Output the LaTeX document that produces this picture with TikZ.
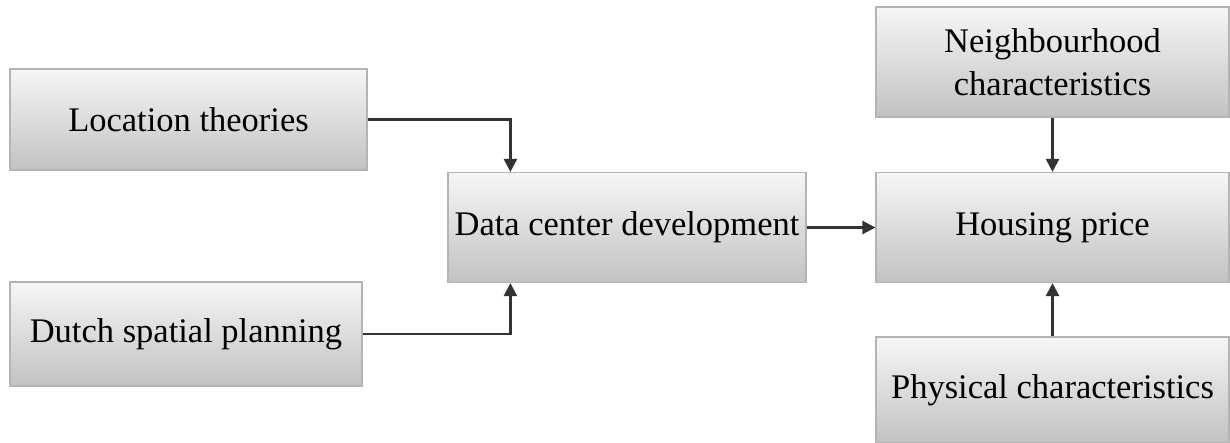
\documentclass[tikz,border=0pt]{standalone}
\usepackage{fontspec}
\setmainfont{Liberation Serif}
\usetikzlibrary{arrows.meta}
\definecolor{boxtop}{HTML}{F6F6F6}
\definecolor{boxbottom}{HTML}{C2C2C2}
\definecolor{boxline}{HTML}{B4B4B4}
\definecolor{arrowline}{HTML}{333333}
\begin{document}
\begin{tikzpicture}[x=1pt,y=-1pt,
  box/.style={rectangle, draw=boxline, line width=1.2pt,
    top color=boxtop, bottom color=boxbottom, inner sep=0pt,
    align=center, text=black, font=\fontsize{34.5}{43}\selectfont},
  arr/.style={draw=arrowline, line width=2.4pt,
    -{Triangle[length=13pt,width=13pt]}}]
\useasboundingbox (0,0) rectangle (1230,443);

% boxes
\node[box, minimum width=357pt, minimum height=101pt] (loc) at (188.5,119.5) {Location theories};
\node[box, minimum width=352pt, minimum height=104pt] (dutch) at (186,334) {Dutch spatial planning};
\node[box, minimum width=358pt, minimum height=110pt] (dc) at (627,227.5) {Data center development};
\node[box, minimum width=353pt, minimum height=110pt] (house) at (1052.5,227.5) {Housing price};
\node[box, minimum width=353pt, minimum height=110pt] (neigh) at (1052.5,62) {Neighbourhood\\characteristics};
\node[box, minimum width=353pt, minimum height=106pt] (phys) at (1052.5,390) {Physical characteristics};

% connectors
\coordinate (dctop) at ([xshift=63pt]dc.north west);
\coordinate (dcbot) at ([xshift=63pt]dc.south west);
\draw[arr] (loc.east) -| (dctop);
\draw[arr] (dutch.east) -| (dcbot);
\draw[arr] (dc.east) -- (house.west);
\draw[arr] (neigh.south) -- (house.north);
\draw[arr] (phys.north) -- (house.south);
\end{tikzpicture}
\end{document}
